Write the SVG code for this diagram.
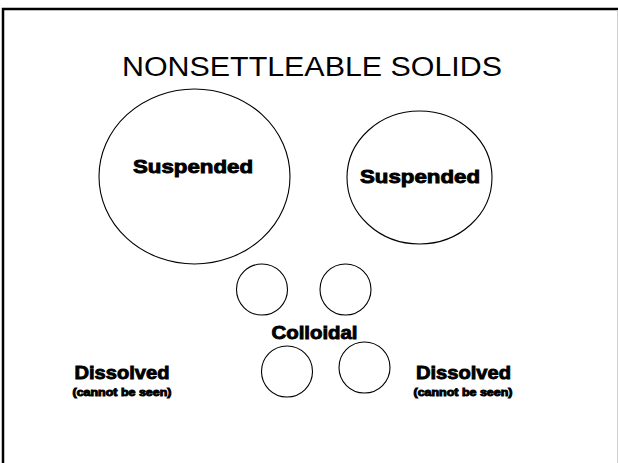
<svg xmlns="http://www.w3.org/2000/svg" width="618" height="463" viewBox="0 0 618 463">
<style>
.c{fill:#fff;stroke:#000;stroke-width:1.1}
.t{font-family:"Liberation Sans",Arial,sans-serif;fill:#000}
.b{font-family:"Liberation Sans",Arial,sans-serif;font-weight:bold;fill:#000;stroke:#000;stroke-width:0.9;text-anchor:middle}
</style>
<rect x="0" y="0" width="618" height="463" fill="#fff"/>
<path d="M3 463 V9 H618" fill="none" stroke="#000" stroke-width="2.5"/>
<line x1="617.5" y1="10" x2="617.5" y2="463" stroke="#d0d0d0" stroke-width="1"/>
<text class="t" x="122" y="76" font-size="27" textLength="380" lengthAdjust="spacingAndGlyphs">NONSETTLEABLE SOLIDS</text>
<g id="suspended1">
<ellipse class="c" cx="194.5" cy="176.5" rx="95.5" ry="87.5"/>
<text class="b" x="193" y="173" font-size="19" textLength="120" lengthAdjust="spacingAndGlyphs">Suspended</text>
</g>
<g id="suspended2">
<ellipse class="c" cx="419.5" cy="177.5" rx="72.5" ry="66.5"/>
<text class="b" x="420" y="183" font-size="19" textLength="120" lengthAdjust="spacingAndGlyphs">Suspended</text>
</g>
<g id="colloid1"><circle class="c" cx="262" cy="289.5" r="25.5"/></g>
<g id="colloid2"><circle class="c" cx="345.5" cy="289.5" r="25.5"/></g>
<g id="colloid3"><circle class="c" cx="287" cy="371.5" r="25.5"/></g>
<g id="colloid4"><circle class="c" cx="364.5" cy="367.5" r="25.5"/></g>
<g id="colloidal-label">
<text class="b" x="314.5" y="339" font-size="19" textLength="86" lengthAdjust="spacingAndGlyphs">Colloidal</text>
</g>
<g id="dissolved-left">
<text class="b" x="122" y="379" font-size="19" textLength="95" lengthAdjust="spacingAndGlyphs">Dissolved</text>
<text class="b" x="122" y="395.5" font-size="10" stroke-width="0.35" textLength="99" lengthAdjust="spacingAndGlyphs">(cannot be seen)</text>
</g>
<g id="dissolved-right">
<text class="b" x="463.5" y="379" font-size="19" textLength="95" lengthAdjust="spacingAndGlyphs">Dissolved</text>
<text class="b" x="463" y="395.5" font-size="10" stroke-width="0.35" textLength="99" lengthAdjust="spacingAndGlyphs">(cannot be seen)</text>
</g>
<g id="connectors"></g>
</svg>
